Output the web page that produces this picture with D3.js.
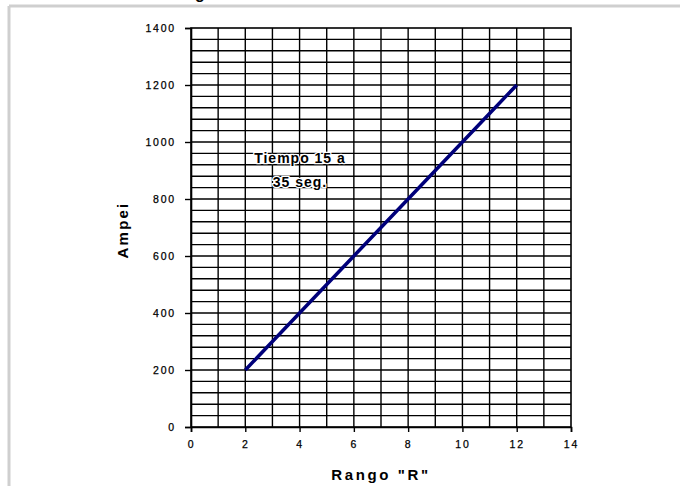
<!DOCTYPE html>
<html lang="es">
<head>
<meta charset="UTF-8">
<title>Ampei vs Rango R</title>
<script src="https://d3js.org/d3.v7.min.js"></script>
<style>
  body { margin: 0; background: #fff; }
  svg { display: block; }
  .tick text { font-family: "Liberation Sans", Arial, sans-serif; font-size: 10.5px; letter-spacing: 1.8px; fill: #000; stroke: #000; stroke-width: 0.25px; }
</style>
</head>
<body>
<svg id="chart" width="680" height="486"></svg>
<script>
// data
const rango = [2, 3, 4, 5, 6, 7, 8, 9, 10, 11, 12];
const ampei = [200, 300, 400, 500, 600, 700, 800, 900, 1000, 1100, 1200];
const xTicks = [0, 2, 4, 6, 8, 10, 12, 14];
const yTicks = [0, 200, 400, 600, 800, 1000, 1200, 1400];
const note = ["Tiempo 15 a", "35 seg."];

const svg = d3.select("#chart");

// outer frame (only top/left edges visible)
svg.append("rect").attr("x", 0).attr("y", 0).attr("width", 680).attr("height", 486).attr("fill", "#fff");
svg.append("line").attr("x1", 9).attr("x2", 680).attr("y1", 6).attr("y2", 6)
  .attr("stroke", "#cfcfcf").attr("stroke-width", 3);
svg.append("line").attr("x1", 9).attr("x2", 9).attr("y1", 6).attr("y2", 486)
  .attr("stroke", "#cfcfcf").attr("stroke-width", 3);

// clipped title descender at the very top
svg.append("text").attr("x", 200).attr("y", -1).attr("text-anchor", "middle")
  .attr("font-family", "Liberation Sans, Arial, sans-serif").attr("font-weight", "bold")
  .attr("font-size", 16).text("g");

const x = d3.scaleLinear().domain([0, 14]).range([191, 571]);
const y = d3.scaleLinear().domain([0, 1400]).range([427, 28]);

const g = svg.append("g");

// grid: every 1 on x, every 40 on y
g.append("g").selectAll("line").data(d3.range(1, 14)).join("line")
  .attr("x1", d => x(d)).attr("x2", d => x(d))
  .attr("y1", y(0)).attr("y2", y(1400))
  .attr("stroke", "#000").attr("stroke-width", 1.4);
g.append("g").selectAll("line").data(d3.range(40, 1400, 40)).join("line")
  .attr("x1", x(0)).attr("x2", x(14))
  .attr("y1", d => y(d)).attr("y2", d => y(d))
  .attr("stroke", "#000").attr("stroke-width", 1.4);

// plot border
g.append("rect").attr("x", x(0)).attr("y", y(1400))
  .attr("width", x(14) - x(0)).attr("height", y(0) - y(1400))
  .attr("fill", "none").attr("stroke", "#000").attr("stroke-width", 1.6);

// axes
const xAxis = g.append("g").attr("transform", `translate(0,${y(0)})`)
  .call(d3.axisBottom(x).tickValues(xTicks).tickFormat(d3.format("d")).tickSize(5).tickPadding(9));
const yAxis = g.append("g").attr("transform", `translate(${x(0)},0)`)
  .call(d3.axisLeft(y).tickValues(yTicks).tickFormat(d3.format("d")).tickSize(6).tickPadding(9));
[xAxis, yAxis].forEach(a => {
  a.select(".domain").attr("stroke", "#000").attr("stroke-width", 1.6);
  a.selectAll(".tick line").attr("stroke", "#000").attr("stroke-width", 1.4);
});

// series line
const line = d3.line().x((d, i) => x(rango[i])).y(d => y(d));
g.append("path").datum(ampei).attr("d", line)
  .attr("fill", "none").attr("stroke", "#00007a").attr("stroke-width", 3.5)
  .attr("stroke-linejoin", "round");

// annotation
note.forEach((t, i) => {
  g.append("text").attr("x", 300).attr("y", 163 + i * 24).attr("text-anchor", "middle")
    .attr("font-family", "Liberation Sans, Arial, sans-serif").attr("font-weight", "bold")
    .attr("font-size", 14).attr("letter-spacing", 1)
    .attr("stroke", "#fff").attr("stroke-width", 2.5).attr("paint-order", "stroke")
    .attr("fill", "#000").text(t);
});

// axis titles
svg.append("text").attr("x", 381).attr("y", 480).attr("text-anchor", "middle")
  .attr("font-family", "Liberation Sans, Arial, sans-serif").attr("font-weight", "bold")
  .attr("font-size", 15).attr("letter-spacing", 2.6).text('Rango "R"');
svg.append("text").attr("transform", "translate(128,230) rotate(-90)").attr("text-anchor", "middle")
  .attr("font-family", "Liberation Sans, Arial, sans-serif").attr("font-weight", "bold")
  .attr("font-size", 15).attr("letter-spacing", 2.2).text("Ampei");
</script>
</body>
</html>
